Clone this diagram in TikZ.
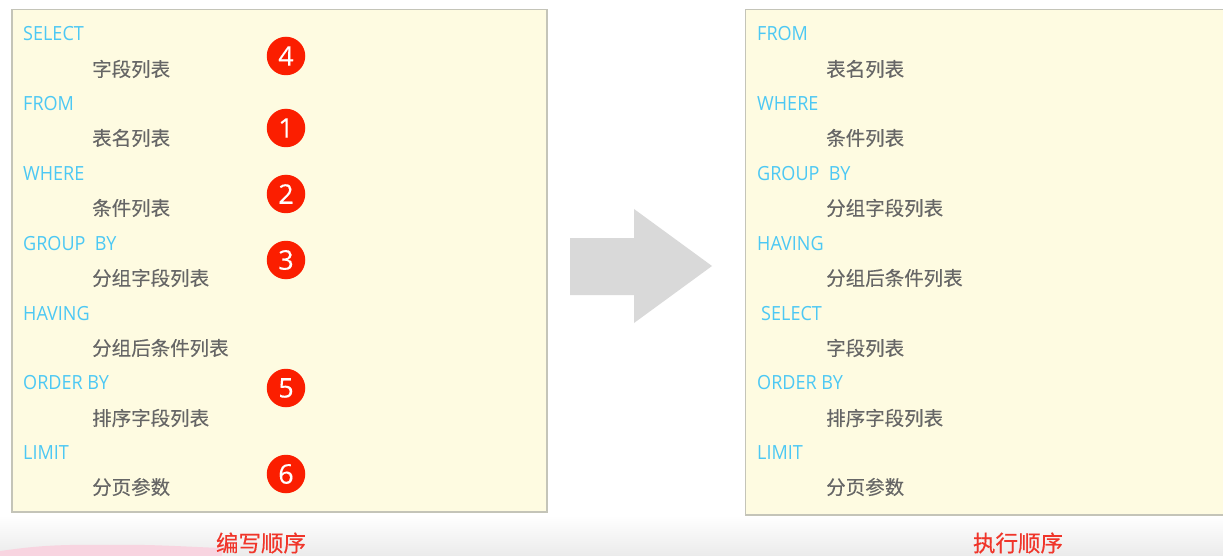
\documentclass[tikz,border=0pt]{standalone}
\usepackage{fontspec}
\setmainfont{Open Sans}[FakeStretch=0.925]
\newfontfamily\cjk{Noto Sans CJK SC}[FakeBold=0.2]
\newfontfamily\capcjk{Noto Sans CJK SC}[FakeBold=0.4]
\newfontfamily\digitfont{Open Sans}[FakeBold=0.2]
\definecolor{boxfill}{HTML}{FEFBE1}
\definecolor{boxline}{HTML}{C4C4B8}
\definecolor{kw}{HTML}{4CC8F4}
\definecolor{zh}{HTML}{666666}
\definecolor{badge}{HTML}{FB1E00}
\definecolor{cap}{HTML}{F0352A}
\definecolor{blotch}{HTML}{F8D4E0}
\tikzset{
  x=1pt,y=-1pt,
  panel/.style={draw=boxline,line width=1.2pt,fill=boxfill},
  kwtext/.style={anchor=west,inner sep=0pt,text=kw,font=\fontsize{19.5}{20}\selectfont},
  zhtext/.style={anchor=west,inner sep=0pt,text=zh,font=\cjk\fontsize{19.5}{20}\selectfont},
  num/.style={circle,fill=badge,text=white,minimum size=38.5pt,inner sep=0pt,font=\digitfont\fontsize{27}{27}\selectfont},
  captext/.style={inner sep=0pt,text=cap,font=\capcjk\fontsize{22.5}{23}\selectfont}
}
\begin{document}
\begin{tikzpicture}
\useasboundingbox (0,0) rectangle (1223,556);
\fill[white] (0,0) rectangle (1223,556);
\shade[top color=white,bottom color=black!8] (0,515) rectangle (1223,556);
\fill[blotch] (0,556) -- (0,551) .. controls (30,547) and (50,544) .. (110,545) .. controls (150,544) and (190,547) .. (222,548) -- (222,556) -- cycle;
\path[panel] (12,9.5) rectangle (547,512);
\path[panel] (745.5,9.5) rectangle (1226,515);
\fill[black!15] (570,238) -- (634,238) -- (634,209) -- (712,266) -- (634,323) -- (634,295) -- (570,295) -- cycle;
% left
\node[kwtext] (l1) at (23,34) {SELECT};
\node[zhtext] (l2) at (92,69) {字段列表};
\node[kwtext] (l3) at (23,104) {FROM};
\node[zhtext] (l4) at (92,138) {表名列表};
\node[kwtext] (l5) at (23,174) {WHERE};
\node[zhtext] (l6) at (92,208) {条件列表};
\node[kwtext] (l7) at (23,244) {GROUP\ \ BY};
\node[zhtext] (l8) at (92,278) {分组字段列表};
\node[kwtext] (l9) at (23,314) {HAVING};
\node[zhtext] (l10) at (92,348) {分组后条件列表};
\node[kwtext] (l11) at (23,383) {ORDER BY};
\node[zhtext] (l12) at (92,418) {排序字段列表};
\node[kwtext] (l13) at (23,453) {LIMIT};
\node[zhtext] (l14) at (92,487) {分页参数};
% right
\node[kwtext] (r1) at (757,34) {FROM};
\node[zhtext] (r2) at (826,69) {表名列表};
\node[kwtext] (r3) at (757,104) {WHERE};
\node[zhtext] (r4) at (826,138) {条件列表};
\node[kwtext] (r5) at (757,174) {GROUP\ \ BY};
\node[zhtext] (r6) at (826,208) {分组字段列表};
\node[kwtext] (r7) at (757,244) {HAVING};
\node[zhtext] (r8) at (826,278) {分组后条件列表};
\node[kwtext] (r9) at (761,314) {SELECT};
\node[zhtext] (r10) at (826,348) {字段列表};
\node[kwtext] (r11) at (757,383) {ORDER BY};
\node[zhtext] (r12) at (826,418) {排序字段列表};
\node[kwtext] (r13) at (757,453) {LIMIT};
\node[zhtext] (r14) at (826,487) {分页参数};
% badges
\node[num] (b4) at (286,56) {4};
\node[num] (b1) at (286,128) {1};
\node[num] (b2) at (286,194) {2};
\node[num] (b3) at (286,260) {3};
\node[num] (b5) at (286,388) {5};
\node[num] (b6) at (286,474) {6};
% captions
\node[captext] (c1) at (261,543) {编写顺序};
\node[captext] (c2) at (1018,543) {执行顺序};
\end{tikzpicture}
\end{document}
